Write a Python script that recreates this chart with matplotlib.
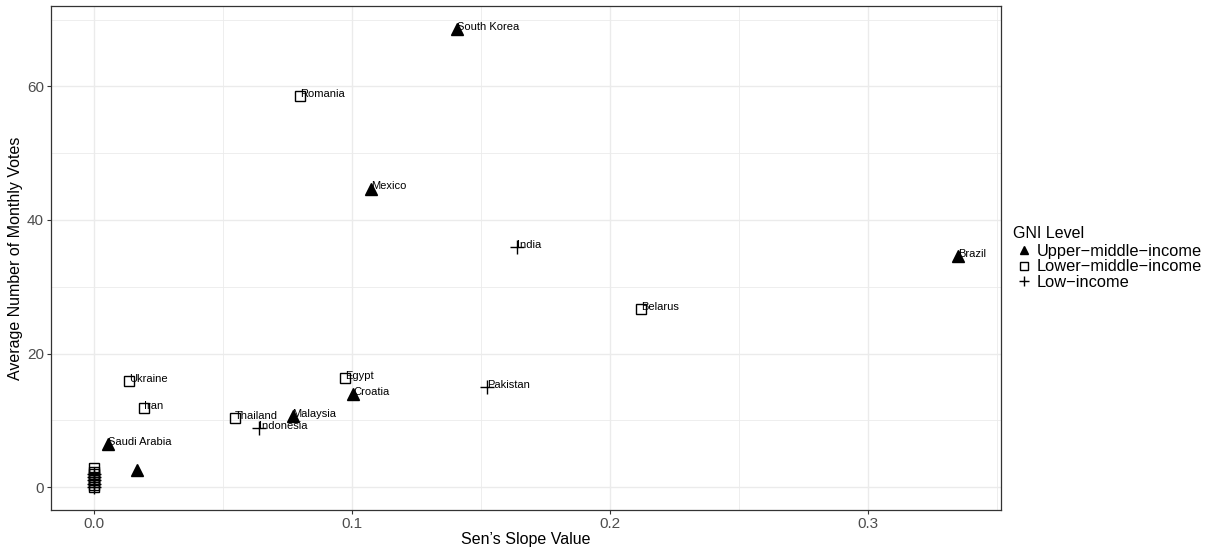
import matplotlib

matplotlib.use("Agg")
import matplotlib.pyplot as plt
from matplotlib.lines import Line2D
from matplotlib.ticker import MultipleLocator

plt.rcParams["font.family"] = ["Liberation Sans", "DejaVu Sans"]

# Sen's slope vs. average monthly votes, one point per country
countries = ["South Korea", "Romania", "Mexico", "India", "Brazil", "Belarus",
             "Ukraine", "Egypt", "Croatia", "Pakistan", "Iran", "Thailand",
             "Malaysia", "Indonesia", "Saudi Arabia", "",
             "", "", "", "", "", "", "", "",
             "", "", "", "", ""]
slope = [0.1407, 0.0798, 0.1074, 0.1640, 0.3349, 0.2120,
         0.0136, 0.0973, 0.1003, 0.1522, 0.0191, 0.0544,
         0.0769, 0.0640, 0.0052, 0.0164,
         0.0, 0.0, 0.0, 0.0, 0.0, 0.0, 0.0, 0.0,
         0.0, 0.0, 0.0, 0.0, 0.0]
votes = [68.6, 58.6, 44.7, 36.0, 34.6, 26.6,
         15.9, 16.3, 13.9, 15.0, 11.9, 10.4,
         10.6, 8.8, 6.4, 2.5,
         0.0, 0.3, 0.7, 1.1, 1.5, 1.9, 2.3, 2.8,
         0.0, 0.5, 1.0, 1.5, 2.0]
gni = ["Upper", "Lower", "Upper", "Low", "Upper", "Lower",
       "Lower", "Lower", "Upper", "Low", "Lower", "Lower",
       "Upper", "Low", "Upper", "Upper",
       "Lower", "Lower", "Lower", "Lower", "Lower", "Lower", "Lower", "Lower",
       "Low", "Low", "Low", "Low", "Low"]

levels = ["Upper", "Lower", "Low"]
level_names = ["Upper\u2212middle\u2212income", "Lower\u2212middle\u2212income",
               "Low\u2212income"]
styles = {
    "Upper": dict(marker="^", markersize=8, color="black", linestyle="none"),
    "Lower": dict(marker="s", markersize=7, markerfacecolor="none",
                  markeredgecolor="black", markeredgewidth=1, linestyle="none"),
    "Low": dict(marker="+", markersize=10, color="black", markeredgewidth=1,
                linestyle="none"),
}

fig = plt.figure(figsize=(12.17, 5.49), dpi=100)
ax = fig.add_axes([0.0419, 0.0710, 0.7806, 0.9180])

grid_col = "#EBEBEB"
ax.set_xlim(-0.0168, 0.3517)
ax.set_ylim(-3.43, 72.03)
ax.xaxis.set_major_locator(MultipleLocator(0.1))
ax.xaxis.set_minor_locator(MultipleLocator(0.05))
ax.yaxis.set_major_locator(MultipleLocator(20))
ax.yaxis.set_minor_locator(MultipleLocator(10))
ax.grid(which="major", color=grid_col, lw=1.0, zorder=0)
ax.grid(which="minor", color=grid_col, lw=0.6, zorder=0)
ax.set_axisbelow(True)

for lvl in levels:
    xs = [s for s, g in zip(slope, gni) if g == lvl]
    ys = [v for v, g in zip(votes, gni) if g == lvl]
    ax.plot(xs, ys, zorder=3, **styles[lvl])

for name, x, y in zip(countries, slope, votes):
    if name:
        ax.annotate(name, (x, y), xytext=(0, 1.5), textcoords="offset points",
                    fontsize=8, ha="left", va="center", zorder=4)

ax.xaxis.set_major_formatter(plt.FuncFormatter(lambda v, _: f"{v:.1f}"))
ax.tick_params(which="major", length=3, width=0.8, color="#333333",
               labelcolor="#4D4D4D", labelsize=11, pad=2)
ax.tick_params(which="minor", length=0)
for sp in ax.spines.values():
    sp.set_color("#333333")
    sp.set_linewidth(0.9)

ax.set_xlabel("Sen\u2019s Slope Value", fontsize=11.5, labelpad=1)
ax.set_ylabel("Average Number of Monthly Votes", fontsize=11.5, labelpad=3)

# legend: title drawn separately so the gap under it can be set freely
fig.text(1013 / 1217, 1 - 233 / 549, "GNI Level", fontsize=11.5,
         ha="left", va="center")
handles = [Line2D([], [], **dict(styles[l], markersize=styles[l]["markersize"] * 0.75))
           for l in levels]
fig.legend(handles, level_names, loc="upper left",
           bbox_to_anchor=(1013 / 1217, 1 - 244 / 549), frameon=False,
           fontsize=11.8, handlelength=1.3, handletextpad=0.15,
           labelspacing=0.02, borderpad=0, borderaxespad=0)

fig.savefig("out.png", dpi=100)
